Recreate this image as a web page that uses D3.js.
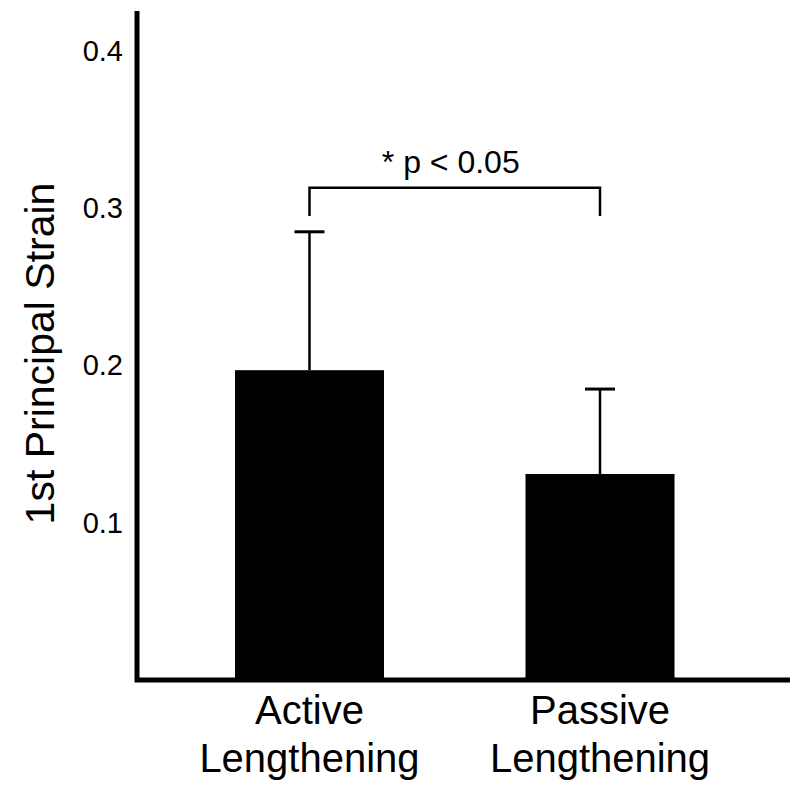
<!DOCTYPE html>
<html>
<head>
<meta charset="utf-8">
<script src="https://cdn.jsdelivr.net/npm/d3@7"></script>
<style>
  html, body { margin: 0; padding: 0; background: #fff; }
  svg { display: block; font-family: "Liberation Sans", Arial, Helvetica, sans-serif; }
</style>
</head>
<body>
<svg id="chart" width="800" height="794"></svg>
<script>
// ---- data ----
const categories = ["Active", "Passive"];
const labelLines = [["Active", "Lengthening"], ["Passive", "Lengthening"]];
const means = [0.197, 0.131];
const errors = [0.088, 0.054];
const yTicks = [0.1, 0.2, 0.3, 0.4];
const yTitle = "1st Principal Strain";
const sigText = "* p < 0.05";
const sigBracket = [0.313, 0.295]; // bracket top, leg bottom (data units)

// ---- scales ----
const svg = d3.select("#chart");
const y = d3.scaleLinear().domain([0, 0.4254]).range([680, 11]);
const x = d3.scaleBand().domain(categories).range([137, 772.5])
  .paddingInner(0.4871).paddingOuter(0.3373);

// bars
svg.selectAll("rect.bar").data(categories).enter().append("rect")
  .attr("class", "bar")
  .attr("x", d => x(d))
  .attr("width", x.bandwidth())
  .attr("y", (d, i) => y(means[i]))
  .attr("height", (d, i) => y(0) - y(means[i]))
  .attr("fill", "#000");

// error bars
const cx = d => x(d) + x.bandwidth() / 2;
svg.selectAll("line.err").data(categories).enter().append("line")
  .attr("x1", cx).attr("x2", cx)
  .attr("y1", (d, i) => y(means[i]))
  .attr("y2", (d, i) => y(means[i] + errors[i]))
  .attr("stroke", "#000").attr("stroke-width", 2.5);
svg.selectAll("line.cap").data(categories).enter().append("line")
  .attr("x1", d => cx(d) - 15).attr("x2", d => cx(d) + 15)
  .attr("y1", (d, i) => y(means[i] + errors[i]))
  .attr("y2", (d, i) => y(means[i] + errors[i]))
  .attr("stroke", "#000").attr("stroke-width", 3);

// axes lines
svg.append("path")
  .attr("d", `M137,${y.range()[1]}V${y(0)}H790`)
  .attr("fill", "none").attr("stroke", "#000").attr("stroke-width", 5)
  .attr("stroke-linejoin", "miter");

// y tick labels
const yAxis = d3.axisLeft(y).tickValues(yTicks).tickSize(0).tickPadding(14)
  .tickFormat(d3.format(".1f"));
const gy = svg.append("g").attr("transform", "translate(137,0)").call(yAxis);
gy.select(".domain").remove();
gy.selectAll("text").attr("font-size", 29).attr("fill", "#000")
  .attr("font-family", "Liberation Sans, Arial, sans-serif");

// y title
svg.append("text")
  .attr("transform", `translate(54,${(y(0) + y(0.4254)) / 2 + 8}) rotate(-90)`)
  .attr("text-anchor", "middle")
  .attr("font-size", 41)
  .text(yTitle);

// category labels
categories.forEach((c, i) => {
  const t = svg.append("text").attr("text-anchor", "middle").attr("font-size", 40);
  labelLines[i].forEach((ln, j) => {
    t.append("tspan").attr("x", cx(c)).attr("y", 724 + j * 48).text(ln);
  });
});

// significance bracket
const x1 = cx(categories[0]), x2 = cx(categories[1]);
svg.append("path")
  .attr("d", `M${x1},${y(sigBracket[1])}V${y(sigBracket[0])}H${x2}V${y(sigBracket[1])}`)
  .attr("fill", "none").attr("stroke", "#000").attr("stroke-width", 2.5);
svg.append("text")
  .attr("x", (x1 + x2) / 2 - 4).attr("y", y(sigBracket[0]) - 15)
  .attr("text-anchor", "middle").attr("font-size", 32)
  .text(sigText);
</script>
</body>
</html>
